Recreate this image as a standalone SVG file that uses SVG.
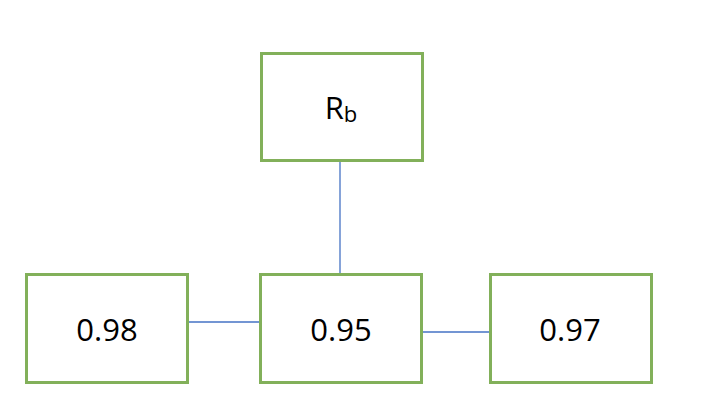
<svg xmlns="http://www.w3.org/2000/svg" width="706" height="418" viewBox="0 0 706 418">
<style>
.box{fill:#fff;stroke:#82b05a;stroke-width:3}
.lbl{font-family:"Open Sans","Liberation Sans",sans-serif;font-size:31px;fill:#000;text-anchor:middle}
.con{stroke:#4472c4;stroke-width:1.3;fill:none}
</style>
<rect width="706" height="418" fill="#fff"/>
<g id="connectors">
<line class="con" x1="340" y1="161" x2="340" y2="274"/>
<line class="con" x1="187" y1="322" x2="260" y2="322"/>
<line class="con" x1="421" y1="332" x2="493" y2="332"/>
</g>
<g id="node-rb">
<rect class="box" x="261.5" y="53.5" width="161" height="107"/>
<text class="lbl" x="341" y="119">R<tspan font-size="22" dy="3">b</tspan></text>
</g>
<g id="node-098">
<rect class="box" x="26.5" y="274.5" width="161" height="108"/>
<text class="lbl" x="107" y="341">0.98</text>
</g>
<g id="node-095">
<rect class="box" x="260.5" y="274.5" width="161" height="108"/>
<text class="lbl" x="341" y="341">0.95</text>
</g>
<g id="node-097">
<rect class="box" x="490.5" y="274.5" width="161" height="108"/>
<text class="lbl" x="570" y="341">0.97</text>
</g>
</svg>
